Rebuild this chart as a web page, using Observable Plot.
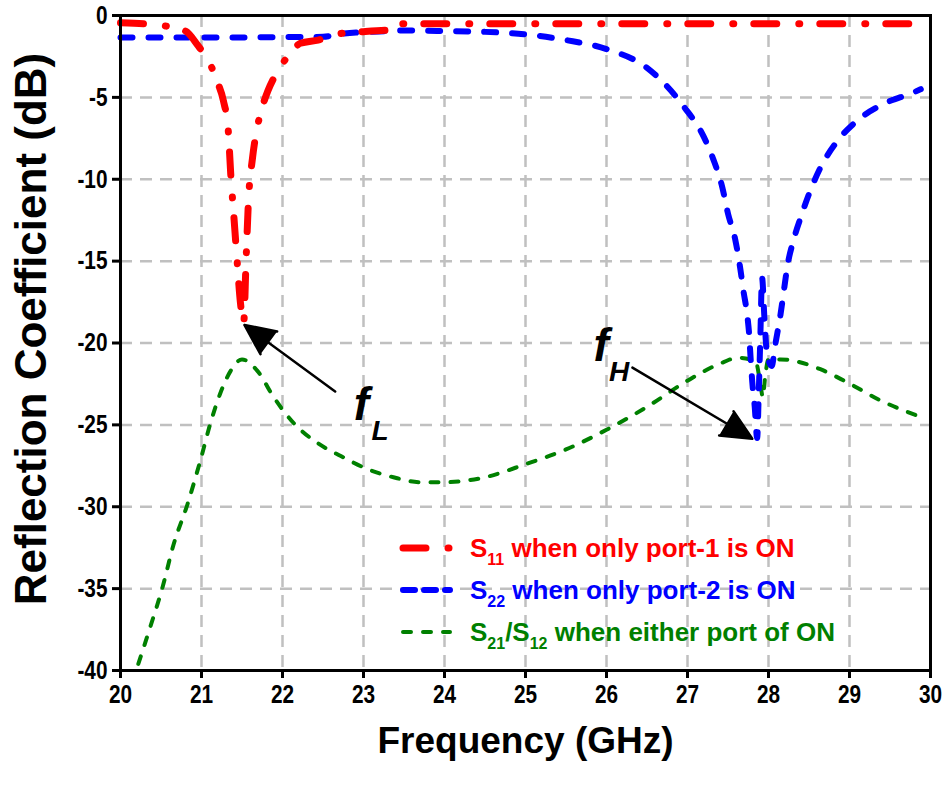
<!DOCTYPE html>
<html>
<head>
<meta charset="utf-8">
<script src="https://cdn.jsdelivr.net/npm/d3@7"></script>
<script src="https://cdn.jsdelivr.net/npm/@observablehq/plot@0.6"></script>
<style>
  html, body { margin: 0; padding: 0; background: #fff; }
  #chart { width: 946px; height: 786px; }
</style>
</head>
<body>
<div id="chart"></div>
<script>
// ---- Data ----
const xTicks = [20, 21, 22, 23, 24, 25, 26, 27, 28, 29, 30];
const yTicks = [0, -5, -10, -15, -20, -25, -30, -35, -40];

const s11Freq = [20, 20.4, 20.8, 20.95, 21.1, 21.2, 21.27, 21.33, 21.36, 21.4, 21.44, 21.48, 21.52, 21.55, 21.58, 21.63, 21.69, 21.75, 21.82, 21.94, 22.1, 22.22, 22.44, 22.72, 22.96, 23.33, 23.42, 23.46, 24, 25, 26, 27, 28, 29, 29.88];
const s11dB   = [-0.45, -0.55, -0.95, -1.8, -2.9, -4.1, -5.2, -7.0, -9.6, -12.3, -15.0, -17.5, -18.8, -15.0, -11.3, -8.7, -6.8, -5.6, -4.6, -3.4, -2.3, -1.7, -1.5, -1.1, -1.0, -0.9, -0.9, -0.5, -0.5, -0.5, -0.5, -0.5, -0.5, -0.5, -0.5];

const s22Freq = [20, 21, 22, 22.5, 22.75, 23.1, 23.5, 24, 24.5, 25, 25.5, 26, 26.5, 26.96, 27.2, 27.32, 27.43, 27.5, 27.59, 27.65, 27.69, 27.74, 27.76, 27.78, 27.8, 27.83, 27.86, 27.88, 27.9, 27.92, 27.95, 27.98, 28.04, 28.08, 28.15, 28.19, 28.23, 28.31, 28.4, 28.5, 28.64, 28.83, 29.1, 29.42, 29.79, 29.88];
const s22dB   = [-1.35, -1.35, -1.32, -1.3, -1.1, -1.0, -0.92, -0.95, -1.0, -1.15, -1.5, -2.05, -3.2, -5.6, -7.4, -8.8, -10.5, -12.1, -13.7, -15.4, -16.8, -18.4, -19.4, -21.0, -22.4, -23.9, -25.8, -23.0, -19.5, -16.0, -18.5, -20.6, -21.4, -20.2, -18.2, -16.8, -15.4, -13.7, -12.3, -10.9, -9.3, -7.8, -6.4, -5.4, -4.7, -4.5];

const s21Freq = [20.22, 20.37, 20.52, 20.65, 20.83, 20.99, 21.11, 21.23, 21.36, 21.5, 21.69, 21.89, 22.14, 22.43, 22.72, 23.05, 23.37, 23.7, 24, 24.5, 25, 25.5, 26, 26.5, 27, 27.43, 27.62, 27.84, 27.9, 27.93, 27.96, 28.0, 28.15, 28.64, 28.97, 29.38, 29.87];
const s21dB   = [-39.6, -37.3, -34.9, -32.4, -29.8, -27.1, -24.9, -23.1, -21.7, -21.0, -21.7, -23.3, -24.9, -26.1, -26.9, -27.7, -28.2, -28.5, -28.5, -28.2, -27.4, -26.5, -25.3, -23.9, -22.3, -21.2, -20.9, -21.1, -22.5, -23.3, -22.0, -21.0, -21.0, -21.6, -22.4, -23.5, -24.5];

// Annotations: arrow tail -> tip, and labels
const arrowX1 = [22.65, 26.32];
const arrowY1 = [-22.96, -21.5];
const arrowX2 = [21.53, 27.8];
const arrowY2 = [-18.9, -25.85];
const annMain = ["f", "f"];
const annSub  = ["L", "H"];
const annX    = [22.88, 25.84];
const annY    = [-24.7, -21.1];
const annSubX = [23.1, 26.03];
const annSubY = [-25.9, -22.35];

const legendLabels = [
  {main: "S", sub: "11", rest: " when only port-1 is ON", color: "#ff0000"},
  {main: "S", sub: "22", rest: " when only port-2 is ON", color: "#0000ff"},
  {main: "S", sub: "21", mid: "/S", sub2: "12", rest: " when either port of ON", color: "#008000"}
];

const toRows = (xs, ys) => xs.map((x, i) => ({x, y: ys[i]}));
const s11 = toRows(s11Freq, s11dB);
const s22 = toRows(s22Freq, s22dB);
const s21 = toRows(s21Freq, s21dB);
const arrows = arrowX1.map((x1, i) => ({x1, y1: arrowY1[i], x2: arrowX2[i], y2: arrowY2[i]}));
const ann = annMain.map((t, i) => ({t, x: annX[i], y: annY[i], s: annSub[i], sx: annSubX[i], sy: annSubY[i]}));

const mainFont = "'Liberation Sans', Arial, sans-serif";

const plot = Plot.plot({
  width: 946,
  height: 786,
  marginLeft: 120,
  marginRight: 16,
  marginTop: 15,
  marginBottom: 116,
  x: {domain: [20, 30]},
  y: {domain: [-40, 0]},
  style: {background: "#fff", color: "#000"},
  marks: [
    Plot.gridX(xTicks, {stroke: "#c0c0c0", strokeOpacity: 1, strokeWidth: 2.5, strokeDasharray: "12,8"}),
    Plot.gridY(yTicks, {stroke: "#c0c0c0", strokeOpacity: 1, strokeWidth: 2.5, strokeDasharray: "12,8"}),
    Plot.line(s21, {x: "x", y: "y", stroke: "#008000", strokeWidth: 4, strokeDasharray: "8,12", strokeLinecap: "round", curve: "monotone-x"}),
    Plot.line(s22, {x: "x", y: "y", stroke: "#0000ff", strokeWidth: 6, strokeDasharray: "12,16", strokeLinecap: "round", curve: "monotone-x"}),
    Plot.line(s11, {x: "x", y: "y", stroke: "#ff0000", strokeWidth: 7, strokeDasharray: "23,22,1,20", strokeLinecap: "round", curve: "monotone-x"}),
    Plot.arrow(arrows, {x1: "x1", y1: "y1", x2: "x2", y2: "y2", stroke: "#000", strokeWidth: 2.5, headLength: 20, headAngle: 50, insetEnd: 0}),
    Plot.text(ann, {x: "x", y: "y", text: "t", textAnchor: "start", lineAnchor: "bottom", fontSize: 46, fontWeight: "bold", fontStyle: "italic", fontFamily: mainFont, fill: "#000"}),
    Plot.text(ann, {x: "sx", y: "sy", text: "s", textAnchor: "start", lineAnchor: "bottom", fontSize: 28, fontWeight: "bold", fontStyle: "italic", fontFamily: mainFont, fill: "#000"}),
    Plot.axisX(xTicks, {tickSize: 8, tickPadding: 6, strokeWidth: 3, fontSize: 26, fontWeight: "bold", fontFamily: mainFont, label: null}),
    Plot.axisY(yTicks, {tickSize: 8, tickPadding: 5, strokeWidth: 3, fontSize: 26, fontWeight: "bold", fontFamily: mainFont, tickFormat: d => d === 0 ? "0" : "-" + Math.abs(d), label: null}),
    Plot.text(["Frequency (GHz)"], {frameAnchor: "bottom", dy: 82, text: d => d, fontSize: 37, fontWeight: "bold", fontFamily: mainFont, fill: "#000"}),
    Plot.text(["Reflection Coefficient (dB)"], {frameAnchor: "left", dx: -89, dy: -14, rotate: -90, textAnchor: "middle", text: d => d, fontSize: 44, fontWeight: "bold", fontFamily: mainFont, fill: "#000"}),
    Plot.frame({stroke: "#000", strokeWidth: 3})
  ]
});

const svg = d3.select(plot);

// condensed tick labels (narrow look of the reference)
svg.selectAll('g[aria-label="x-axis tick label"] text, g[aria-label="y-axis tick label"] text').each(function() {
  const el = d3.select(this);
  const tr = el.attr("transform") || "";
  el.attr("transform", tr + " scale(0.8,1)");
});

// filled arrowheads
svg.selectAll('g[aria-label="arrow"] path').attr("fill", "#000").attr("stroke-linejoin", "miter");

// legend inside plot area
const lg = svg.append("g").attr("font-family", mainFont).attr("font-weight", "bold").attr("text-anchor", "start");
const rowsY = [548, 590, 632];
const samples = [
  {color: "#ff0000", width: 7, dash: "23,22,1,20"},
  {color: "#0000ff", width: 6, dash: "12,9"},
  {color: "#008000", width: 4, dash: "8,12"}
];
legendLabels.forEach((L, i) => {
  const y = rowsY[i];
  const s = samples[i];
  lg.append("line").attr("x1", 403).attr("x2", i === 0 ? 449 : 450).attr("y1", y).attr("y2", y)
    .attr("stroke", s.color).attr("stroke-width", s.width).attr("stroke-dasharray", s.dash).attr("stroke-linecap", "round");
  const t = lg.append("text").attr("x", 470).attr("y", y + 9).attr("fill", L.color).attr("font-size", 26).attr("text-anchor", "start");
  t.append("tspan").text(L.main);
  t.append("tspan").attr("font-size", 16).attr("dy", 8).text(L.sub);
  if (L.mid) {
    t.append("tspan").attr("dy", -8).text(L.mid);
    t.append("tspan").attr("font-size", 16).attr("dy", 8).text(L.sub2);
  }
  t.append("tspan").attr("dy", -8).text(L.rest);
});

document.getElementById("chart").appendChild(plot);
</script>
</body>
</html>
